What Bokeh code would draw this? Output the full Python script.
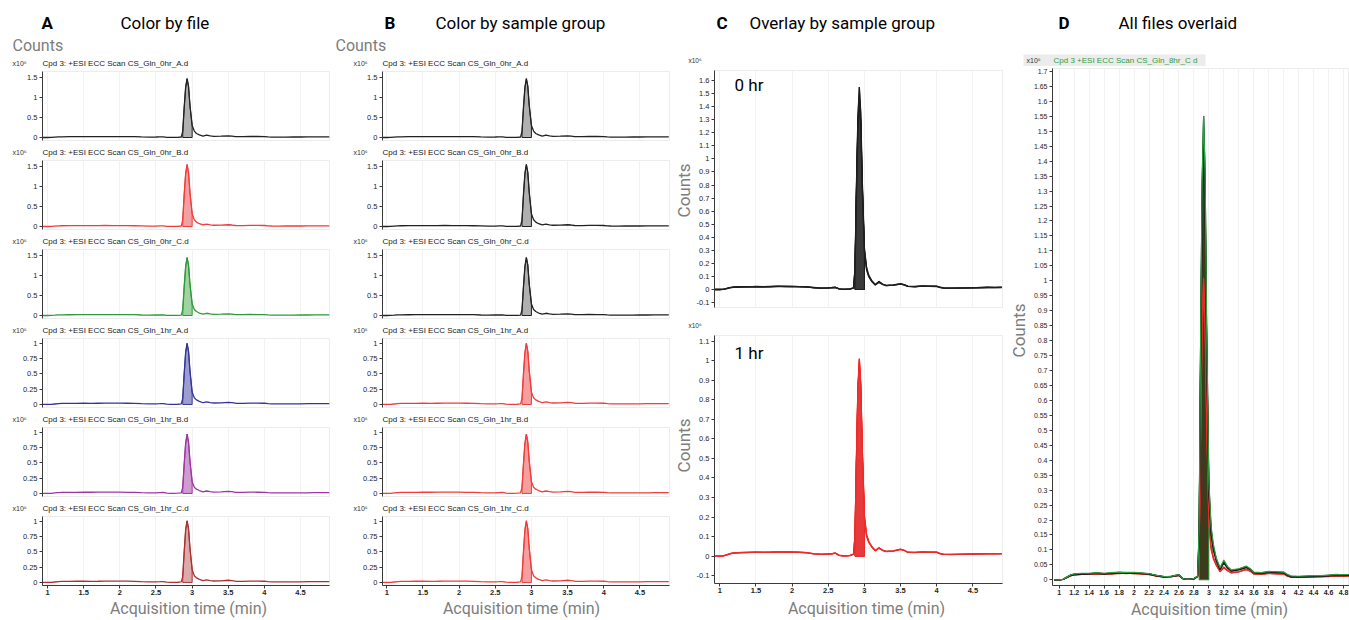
import math
from bokeh.plotting import figure
from bokeh.layouts import row, column
from bokeh.models import Label, FixedTicker, CustomJSTickFormatter, Range1d, BoxAnnotation
from bokeh.embed import file_html
from bokeh.resources import INLINE

# ---------------- data (counts in units of 10^6) ----------------
times = [0.93, 1.0, 1.05, 1.1, 1.15, 1.2, 1.3, 1.4, 1.5, 1.6, 1.7, 1.8, 1.9, 2.0, 2.1, 2.2,
         2.3, 2.4, 2.5, 2.55, 2.6, 2.65, 2.7, 2.75, 2.8, 2.85,
         2.87, 2.89, 2.91, 2.93, 2.95, 2.97, 3.0,
         3.03, 3.06, 3.1, 3.15, 3.2, 3.25, 3.3,
         3.4, 3.5, 3.55, 3.6, 3.7, 3.8, 3.9, 4.0,
         4.05, 4.1, 4.2, 4.3, 4.4, 4.5, 4.6, 4.7, 4.8, 4.9]

counts_0hr_A = [0.0, 0.0, 0.001, 0.008, 0.015, 0.018, 0.02, 0.021, 0.022, 0.02, 0.022, 0.024, 0.024, 0.023, 0.022, 0.02,
                0.014, 0.01, 0.012, 0.014, 0.016, 0.004, 0.002, 0.002, 0.003, 0.012,
                0.15, 0.75, 1.25, 1.47, 1.28, 0.8, 0.3,
                0.16, 0.1, 0.065, 0.035, 0.058, 0.04, 0.03,
                0.034, 0.042, 0.036, 0.024, 0.022, 0.026, 0.025, 0.024,
                0.016, 0.011, 0.01, 0.011, 0.012, 0.012, 0.014, 0.016, 0.015, 0.016]
counts_0hr_B = [0.0, 0.0, 0.002, 0.009, 0.016, 0.019, 0.021, 0.02, 0.023, 0.021, 0.023, 0.025, 0.023, 0.024, 0.021, 0.019,
                0.015, 0.011, 0.011, 0.015, 0.017, 0.005, 0.002, 0.001, 0.004, 0.013,
                0.16, 0.8, 1.32, 1.55, 1.35, 0.85, 0.32,
                0.17, 0.11, 0.07, 0.038, 0.062, 0.042, 0.031,
                0.036, 0.044, 0.037, 0.025, 0.023, 0.027, 0.026, 0.025,
                0.017, 0.012, 0.011, 0.012, 0.013, 0.013, 0.015, 0.017, 0.016, 0.017]
counts_0hr_C = [0.0, 0.0, 0.001, 0.007, 0.014, 0.017, 0.019, 0.021, 0.021, 0.02, 0.021, 0.023, 0.024, 0.022, 0.022, 0.02,
                0.013, 0.01, 0.012, 0.013, 0.015, 0.004, 0.001, 0.002, 0.003, 0.011,
                0.14, 0.72, 1.22, 1.45, 1.26, 0.78, 0.29,
                0.15, 0.1, 0.062, 0.034, 0.056, 0.039, 0.029,
                0.033, 0.041, 0.035, 0.024, 0.021, 0.025, 0.024, 0.023,
                0.015, 0.01, 0.01, 0.01, 0.011, 0.012, 0.013, 0.015, 0.014, 0.015]
counts_1hr_A = [0.0, 0.0, 0.001, 0.007, 0.013, 0.016, 0.018, 0.019, 0.02, 0.019, 0.02, 0.021, 0.022, 0.021, 0.02, 0.018,
                0.012, 0.009, 0.011, 0.012, 0.015, 0.004, 0.002, 0.002, 0.003, 0.01,
                0.1, 0.5, 0.85, 1.0, 0.87, 0.55, 0.2,
                0.11, 0.075, 0.05, 0.028, 0.042, 0.031, 0.024,
                0.027, 0.035, 0.03, 0.02, 0.019, 0.022, 0.021, 0.02,
                0.013, 0.009, 0.009, 0.009, 0.01, 0.011, 0.012, 0.013, 0.012, 0.013]
counts_1hr_B = [0.0, 0.0, 0.002, 0.008, 0.014, 0.017, 0.019, 0.018, 0.021, 0.02, 0.021, 0.022, 0.021, 0.022, 0.019, 0.017,
                0.013, 0.01, 0.01, 0.013, 0.016, 0.005, 0.002, 0.001, 0.004, 0.011,
                0.1, 0.48, 0.82, 0.97, 0.84, 0.53, 0.19,
                0.1, 0.07, 0.048, 0.027, 0.04, 0.03, 0.023,
                0.026, 0.034, 0.029, 0.019, 0.018, 0.021, 0.02, 0.019,
                0.012, 0.009, 0.008, 0.009, 0.01, 0.01, 0.011, 0.012, 0.012, 0.012]
counts_1hr_C = [0.0, 0.0, 0.001, 0.007, 0.013, 0.016, 0.018, 0.02, 0.02, 0.019, 0.02, 0.022, 0.022, 0.021, 0.021, 0.018,
                0.012, 0.009, 0.011, 0.012, 0.015, 0.004, 0.001, 0.002, 0.003, 0.01,
                0.1, 0.5, 0.86, 1.01, 0.88, 0.56, 0.21,
                0.11, 0.076, 0.05, 0.029, 0.043, 0.031, 0.024,
                0.027, 0.036, 0.03, 0.02, 0.019, 0.022, 0.021, 0.02,
                0.013, 0.009, 0.009, 0.01, 0.01, 0.011, 0.012, 0.013, 0.013, 0.013]
counts_8hr_C = [0.0, 0.0, 0.002, 0.009, 0.016, 0.02, 0.022, 0.022, 0.024, 0.022, 0.024, 0.026, 0.025, 0.025, 0.023, 0.021,
                0.015, 0.011, 0.012, 0.015, 0.017, 0.005, 0.002, 0.002, 0.004, 0.013,
                0.17, 0.82, 1.33, 1.55, 1.36, 0.86, 0.33,
                0.18, 0.12, 0.072, 0.04, 0.066, 0.045, 0.033,
                0.037, 0.046, 0.038, 0.026, 0.024, 0.028, 0.027, 0.026,
                0.018, 0.013, 0.012, 0.013, 0.014, 0.014, 0.016, 0.018, 0.017, 0.018]

file_names = ["CS_Gln_0hr_A.d", "CS_Gln_0hr_B.d", "CS_Gln_0hr_C.d",
              "CS_Gln_1hr_A.d", "CS_Gln_1hr_B.d", "CS_Gln_1hr_C.d"]
file_counts = [counts_0hr_A, counts_0hr_B, counts_0hr_C, counts_1hr_A, counts_1hr_B, counts_1hr_C]
group_0hr = [counts_0hr_A, counts_0hr_B, counts_0hr_C]
group_1hr = [counts_1hr_A, counts_1hr_B, counts_1hr_C]
overlay_name = "CS_Gln_8hr_C d"

peak_start = 2.87
peak_end = 3.0

ab_xticks = [1, 1.5, 2, 2.5, 3, 3.5, 4, 4.5]
ab_yticks_big = [0, 0.5, 1, 1.5]
ab_yticks_small = [0, 0.25, 0.5, 0.75, 1]
c_top_yticks = [-0.1, 0, 0.1, 0.2, 0.3, 0.4, 0.5, 0.6, 0.7, 0.8, 0.9, 1.0, 1.1, 1.2, 1.3, 1.4, 1.5, 1.6]
c_bot_yticks = [-0.1, 0, 0.1, 0.2, 0.3, 0.4, 0.5, 0.6, 0.7, 0.8, 0.9, 1.0, 1.1]
d_yticks = [0, 0.05, 0.1, 0.15, 0.2, 0.25, 0.3, 0.35, 0.4, 0.45, 0.5, 0.55, 0.6, 0.65, 0.7, 0.75,
            0.8, 0.85, 0.9, 0.95, 1.0, 1.05, 1.1, 1.15, 1.2, 1.25, 1.3, 1.35, 1.4, 1.45, 1.5, 1.55,
            1.6, 1.65, 1.7]
d_xticks = [1, 1.2, 1.4, 1.6, 1.8, 2, 2.2, 2.4, 2.6, 2.8, 3, 3.2, 3.4, 3.6, 3.8, 4, 4.2, 4.4, 4.6, 4.8]

# ---------------- styling ----------------
FMT = CustomJSTickFormatter(code="return String(Math.round(tick*100)/100)")
TICK_FONT = "Liberation Sans"
HEAD_FONT = "Roboto"
GRAY = "#7d7d7d"
XTITLE = "Acquisition time (min)"
HSIZE = "17px"

a_line = ["#222222", "#f03c3c", "#2e9a3a", "#34349a", "#9a38a0", "#a83232"]
a_fill = ["#b0b0b0", "#f5a0a0", "#9fd39f", "#9d9dd0", "#d09ad3", "#dcaaaa"]
b_line = ["#222222", "#222222", "#222222", "#f03c3c", "#f03c3c", "#f03c3c"]
b_fill = ["#b0b0b0", "#b0b0b0", "#b0b0b0", "#f5a0a0", "#f5a0a0", "#f5a0a0"]


def new_fig(w, h, bl, br, bt, bb, xr, yr, xticks, yticks, show_x, tick_size="7.5px"):
    p = figure(width=w, height=h, x_range=Range1d(*xr), y_range=Range1d(*yr),
               output_backend="svg", toolbar_location=None, title=None,
               min_border_left=bl, min_border_right=br, min_border_top=bt, min_border_bottom=bb)
    p.frame_align = False
    p.outline_line_color = "#ececec"
    p.background_fill_color = "white"
    p.border_fill_color = "white"
    p.xgrid.ticker = FixedTicker(ticks=xticks)
    p.xgrid.grid_line_color = "#f2f2f2"
    p.ygrid.grid_line_color = None
    p.xaxis.ticker = FixedTicker(ticks=xticks)
    p.yaxis.ticker = FixedTicker(ticks=yticks)
    for ax in (p.xaxis[0], p.yaxis[0]):
        ax.formatter = FMT
        ax.axis_line_color = "#3a3a3a"
        ax.major_tick_line_color = "#3a3a3a"
        ax.major_tick_out = 3
        ax.major_tick_in = 0
        ax.minor_tick_line_color = None
        ax.major_label_text_font = TICK_FONT
        ax.major_label_text_font_size = tick_size
        ax.major_label_text_color = "#262626"
        ax.major_label_standoff = 2
    p.xaxis.major_label_standoff = 1
    p.xaxis.major_label_text_font_style = "bold"
    p.xaxis.visible = show_x
    return p


def strip(w, h):
    p = figure(width=w, height=h, x_range=Range1d(0, w), y_range=Range1d(0, h),
               output_backend="svg", toolbar_location=None, title=None,
               x_axis_location=None, y_axis_location=None, min_border=0)
    p.frame_align = False
    p.grid.visible = False
    p.outline_line_color = None
    p.background_fill_color = "white"
    p.border_fill_color = "white"
    return p


def lab(p, x, y_top, text, size, color="#000000", font=HEAD_FONT, style="normal",
        align="left", angle=0.0):
    # x from strip left, y measured from strip top (screen pixels)
    p.add_layout(Label(x=x, y=p.height - y_top, x_units="screen", y_units="screen", text=text,
                       text_font_size=size, text_color=color, text_font=font,
                       text_font_style=style, text_align=align, text_baseline="middle",
                       angle=angle))


def inlab(p, x, y, text, size):
    p.add_layout(Label(x=x, y=y, x_units="screen", y_units="screen", text=text,
                       text_font_size=size, text_color="#000000", text_font=HEAD_FONT,
                       text_baseline="middle"))


def peak_patch(p, y, line_color, fill_color, fill_alpha=1.0):
    sub_t = [t for t in times if peak_start <= t <= peak_end]
    sub_y = [v for t, v in zip(times, y) if peak_start <= t <= peak_end]
    p.patch([peak_start] + sub_t + [peak_end], [0] + sub_y + [0],
            fill_color=fill_color, fill_alpha=fill_alpha, line_color=line_color, line_width=1)


def draw_trace(p, y, line_color, fill_color, lw=1.3):
    peak_patch(p, y, line_color, fill_color)
    p.line(times, y, line_color=line_color, line_width=lw)


def counts_strip(w, h, center_from_top, x):
    s = strip(w, h)
    lab(s, x, center_from_top, "Counts", "17px", GRAY, align="center", angle=math.pi / 2)
    return s


def stacked_column(width, bl, br, xr, lines, fills, letter, title, letter_x, title_x,
                   counts_x, x10_x, foot_x):
    items = []
    head = strip(width, 54)
    lab(head, letter_x, 22, letter, HSIZE, style="bold")
    lab(head, title_x, 22, title, HSIZE)
    lab(head, counts_x, 45, "Counts", "16px", GRAY)
    items.append(head)
    for i in range(6):
        last = i == 5
        s = strip(width, 17)
        lab(s, x10_x, 9, "x10\u2076", "7px", "#333333", TICK_FONT)
        lab(s, bl, 9, "Cpd 3: +ESI ECC Scan " + file_names[i], "8px", "#222222", TICK_FONT)
        items.append(s)
        big = i < 3
        yr = (-0.075, 1.65) if big else (-0.05, 1.08)
        yt = ab_yticks_big if big else ab_yticks_small
        bb = 14 if last else 3
        p = new_fig(width, 69 + bb, bl, br, 0, bb, xr, yr, ab_xticks, yt, last)
        draw_trace(p, file_counts[i], lines[i], fills[i])
        items.append(p)
    foot = strip(width, 21)
    lab(foot, foot_x, 9, XTITLE, "16px", GRAY, align="center")
    items.append(foot)
    return column(*items)


col_a = stacked_column(335, 42, 6, (0.93, 4.9), a_line, a_fill, "A", "Color by file",
                       41, 120, 12, 12, 188)
col_b = stacked_column(336, 47, 2, (0.94, 4.91), b_line, b_fill, "B", "Color by sample group",
                       49, 100, 0, 18, 186)

# ---------------- panel C ----------------
CW = 337
VS = 22
c_head = strip(CW, 66)
lab(c_head, 45, 22, "C", HSIZE, style="bold")
lab(c_head, 78, 22, "Overlay by sample group", HSIZE)
lab(c_head, 17, 60, "x10\u2076", "6.5px", "#333333", TICK_FONT)

c_top = new_fig(CW - VS, 252, 20, 6, 4, 11, (0.927, 4.91), (-0.138, 1.677), ab_xticks, c_top_yticks, False)
for y in group_0hr:
    draw_trace(c_top, y, "#1e1e1e", "#3a3a3a")
inlab(c_top, 20, 223, "0 hr", "17px")

c_mid = strip(CW, 15)
lab(c_mid, 17, 7, "x10\u2076", "6.5px", "#333333", TICK_FONT)

c_bot = new_fig(CW - VS, 264, 20, 6, 2, 14, (0.927, 4.91), (-0.14, 1.129), ab_xticks, c_bot_yticks, True)
for y in group_1hr:
    draw_trace(c_bot, y, "#ee2a2a", "#e83a3a")
inlab(c_bot, 20, 231, "1 hr", "17px")

c_foot = strip(CW, 23)
lab(c_foot, 195, 11, XTITLE, "16px", GRAY, align="center")
col_c = column(c_head,
               row(counts_strip(VS, 252, 124, 12), c_top),
               c_mid,
               row(counts_strip(VS, 264, 112, 12), c_bot),
               c_foot)

# ---------------- panel D ----------------
DW = 341
DV = 22
d_head = strip(DW, 66)
d_head.add_layout(BoxAnnotation(left=15, right=197, bottom=0, top=12,
                                left_units="screen", right_units="screen",
                                bottom_units="screen", top_units="screen",
                                fill_color="#ececec", fill_alpha=1.0, line_color=None))
lab(d_head, 50, 22, "D", HSIZE, style="bold")
lab(d_head, 110, 22, "All files overlaid", HSIZE)
lab(d_head, 18, 60, "x10\u2076", "7px", "#333333", TICK_FONT)
lab(d_head, 45, 60, "Cpd 3  +ESI ECC Scan " + overlay_name, "8px", "#2e9e3e", TICK_FONT)

d = new_fig(DW - DV, 534, 21, 0, 2, 15, (0.91, 4.88), (-0.019, 1.71), d_xticks, d_yticks, True, tick_size="7px")
for y in group_1hr + group_0hr:
    peak_patch(d, y, None, "#3e3a1c")
peak_patch(d, counts_8hr_C, "#2aa040", "#3e3a1c")
for y in group_1hr:
    d.line(times, y, line_color="#e82a2a", line_width=1.2)
for y in group_0hr:
    d.line(times, y, line_color="#1a1a1a", line_width=1.2)
d.line(times, counts_8hr_C, line_color="#2aa040", line_width=1.2)

d_foot = strip(DW, 20)
lab(d_foot, 201, 9, XTITLE, "16px", GRAY, align="center")
col_d = column(d_head, row(counts_strip(DV, 534, 264, 10), d), d_foot)

layout = row(col_a, col_b, col_c, col_d)

with open("out.html", "w") as f:
    f.write(file_html(layout, INLINE))
